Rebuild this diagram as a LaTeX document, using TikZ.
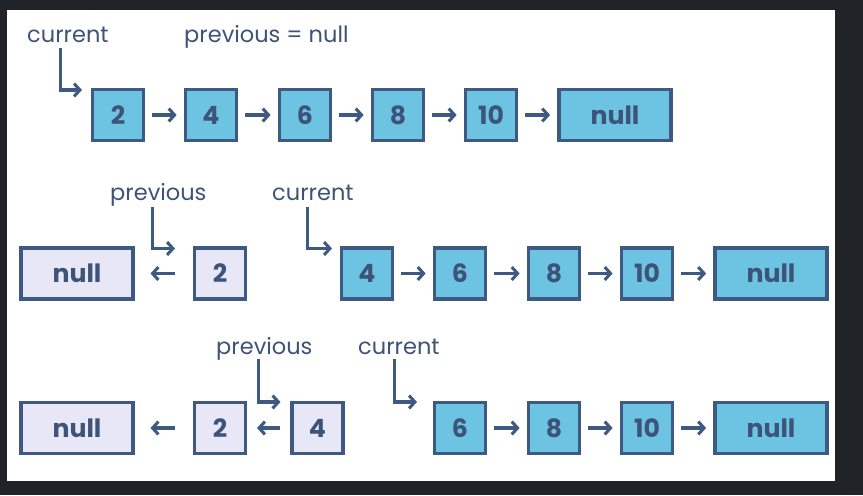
\documentclass[tikz,border=0pt]{standalone}
\usepackage{fontspec}
\setmainfont{Poppins}
\usetikzlibrary{calc, arrows.meta}
\definecolor{Frame}{HTML}{202428}
\definecolor{Edge}{HTML}{3E5A82}
\definecolor{Ink}{HTML}{3D5478}
\definecolor{Cell}{HTML}{6CC3E2}
\definecolor{Done}{HTML}{E7E7F8}
\tikzset{
    cell/.style={rectangle, draw=Edge, line width=2.6pt, fill=Cell, text=Ink, minimum width=1.53cm, minimum height=1.53cm, inner sep=0pt, font=\bfseries\fontsize{21.5}{21.5}\selectfont},
    nullcell/.style={cell, minimum width=3.36cm},
    donecell/.style={cell, fill=Done},
    donenull/.style={nullcell, fill=Done},
    tag/.style={anchor=base west, inner sep=0pt, text=Ink, font=\fontsize{19.2}{19.2}\selectfont},
    link/.style={-{Straight Barb[length=5pt, width=11pt]}, line width=2.6pt, draw=Edge},
    ptr/.style={link},
}
\begin{document}
\begin{tikzpicture}[x=0.03cm, y=-0.03cm]
    % frame
    \fill[Frame] (0,0) rectangle (863,495);
    \fill[white] (7,10) rectangle (835,481);
    \useasboundingbox (0,0) rectangle (863,495);

    % 1. start
    \node[tag] (cur1) at (27,42) {current};
    \node[tag] (prev1) at (184,42) {previous = null};
    \foreach \v/\x [count=\i] in {2/118, 4/211, 6/305, 8/398, 10/491}
        \node[cell] (a\i) at (\x,115) {\v};
    \node[nullcell] (a6) at (615,115) {null};
    \foreach \i/\j in {1/2, 2/3, 3/4, 4/5, 5/6}
        \draw[link, shorten <=0.21cm, shorten >=0.22cm] (a\i.east) -- (a\j.west);
    \draw[ptr] ($(cur1.base)+(-7,6)$) |- ($(a1.north west)+(-9,2)$);

    % 2. first step
    \node[tag] (prev2) at (110,200) {previous};
    \node[tag] (cur2) at (272,200) {current};
    \node[donenull] (b0) at (77,273.5) {null};
    \node[donecell] (b1) at (220,273.5) {2};
    \foreach \v/\x [count=\i from 2] in {4/367, 6/460, 8/554, 10/647}
        \node[cell] (b\i) at (\x,273.5) {\v};
    \node[nullcell] (b6) at (771,273.5) {null};
    \draw[link, shorten <=0.54cm, shorten >=0.48cm] (b1.west) -- (b0.east);
    \foreach \i/\j in {2/3, 3/4, 4/5, 5/6}
        \draw[link, shorten <=0.21cm, shorten >=0.22cm] (b\i.east) -- (b\j.west);
    \draw[ptr] ($(prev2.base)+(-6,7)$) |- ($(b1.north west)+(-18,2)$);
    \draw[ptr] ($(cur2.base)+(-5,7)$) |- ($(b2.north west)+(-8,2)$);

    % 3. second step
    \node[tag] (prev3) at (216,354) {previous};
    \node[tag] (cur3) at (358,354) {current};
    \node[donenull] (c0) at (77,428) {null};
    \node[donecell] (c1) at (220,428) {2};
    \node[donecell] (c2) at (317.5,428) {4};
    \foreach \v/\x [count=\i from 3] in {6/460, 8/554, 10/647}
        \node[cell] (c\i) at (\x,428) {\v};
    \node[nullcell] (c6) at (771,428) {null};
    \draw[link, shorten <=0.54cm, shorten >=0.48cm] (c1.west) -- (c0.east);
    \draw[link, shorten <=0.3cm, shorten >=0.3cm] (c2.west) -- (c1.east);
    \foreach \i/\j in {3/4, 4/5, 5/6}
        \draw[link, shorten <=0.21cm, shorten >=0.22cm] (c\i.east) -- (c\j.west);
    \draw[ptr] ($(prev3.base)+(-6,5)$) |- ($(c2.north west)+(-10,1)$);
    \draw[ptr] ($(cur3.base)+(-4,5)$) |- ($(c3.north west)+(-16,1)$);
\end{tikzpicture}
\end{document}
